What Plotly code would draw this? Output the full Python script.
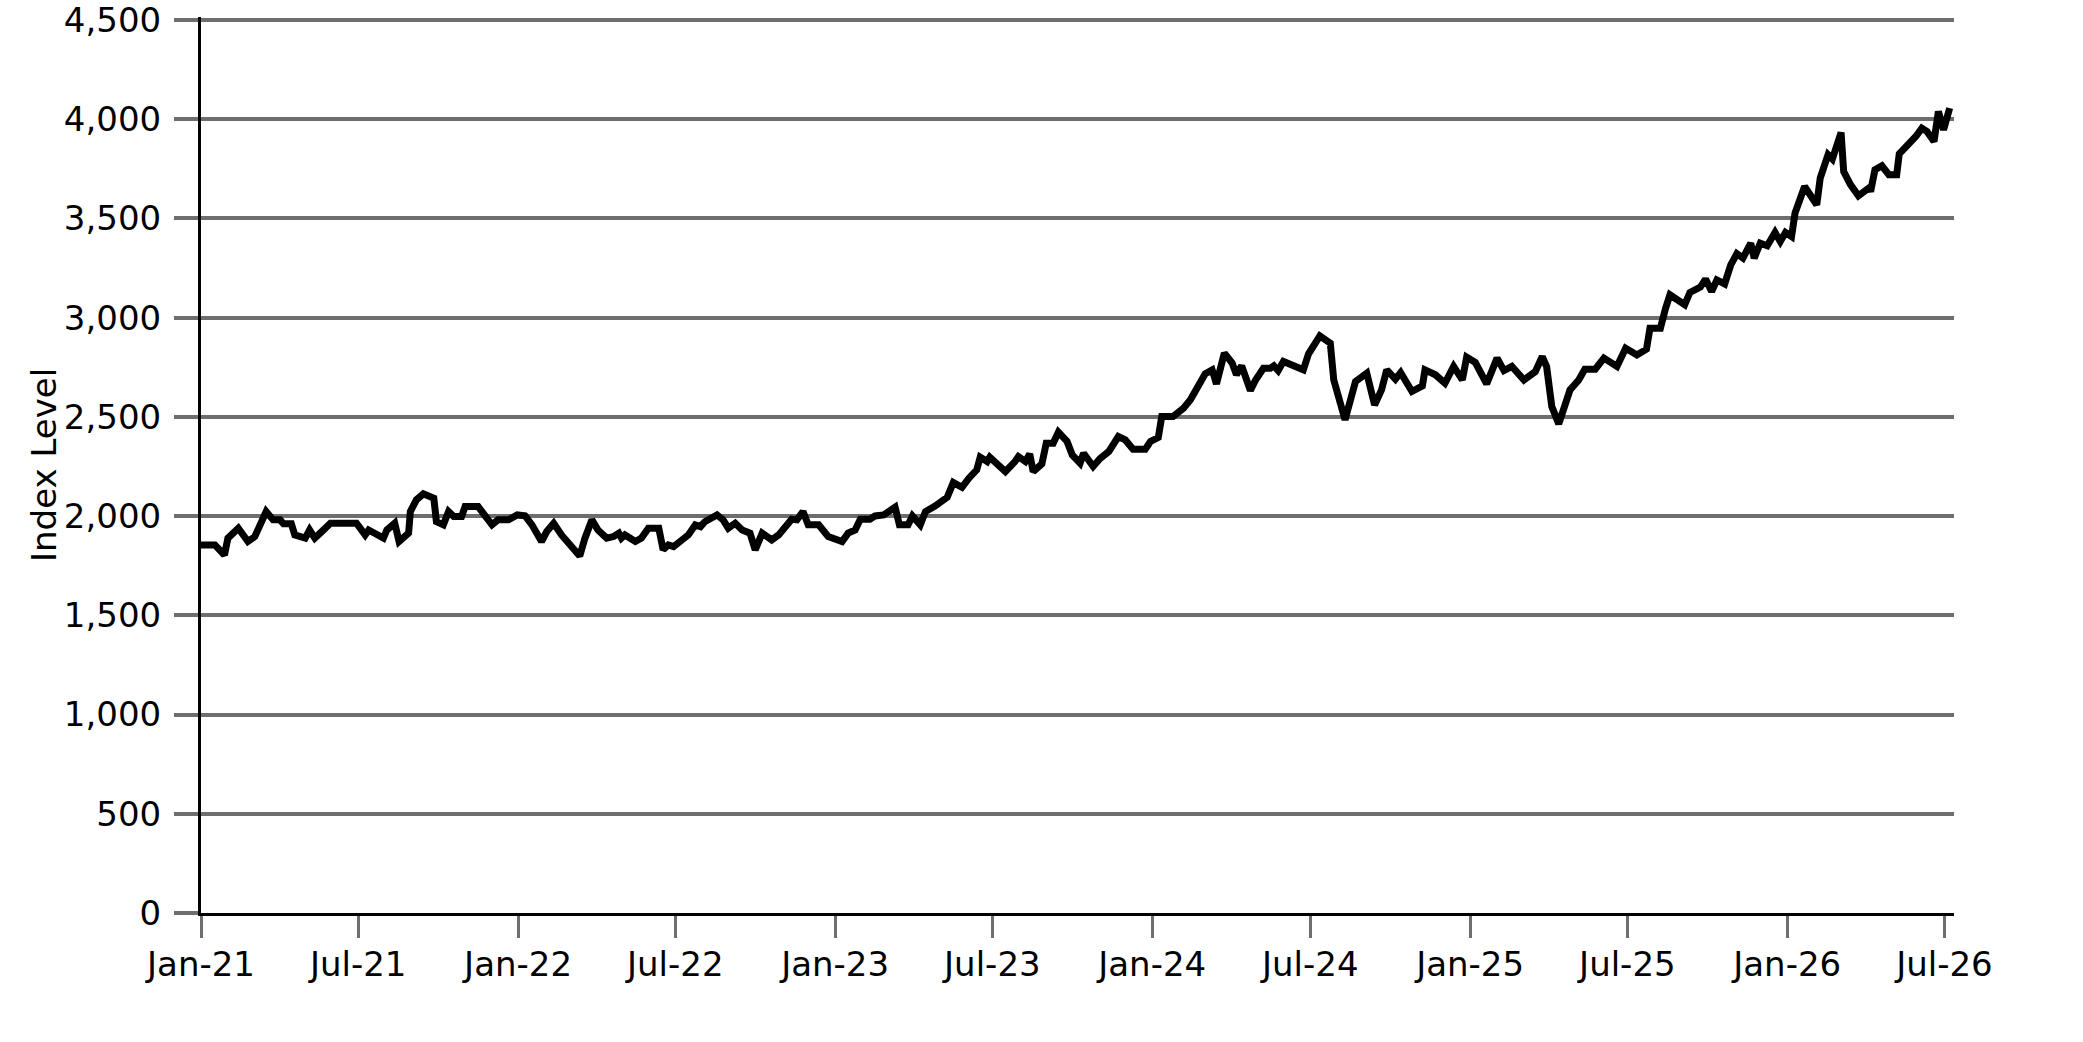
import pandas as pd
import plotly.graph_objects as go

START_DATE = "2021-01-01"

# days since START_DATE for each reading, and the index level
day_offset = [
    0, 16, 27, 31, 43, 54, 62, 68, 75, 83, 91, 95, 104, 108, 120, 125, 131, 139, 149, 179,
    189, 193, 202, 210, 214, 223, 228, 233, 239, 241, 248, 256, 268, 271, 279, 285, 291, 300, 304, 319,
    325, 335, 342, 354, 364, 373, 381, 392, 398, 406, 415, 427, 436, 442, 450, 457, 467, 475, 481, 484,
    488, 500, 507, 515, 527, 532, 538, 544, 553, 561, 569, 575, 580, 594, 601, 607, 615, 623, 632, 638,
    646, 657, 665, 670, 680, 686, 693, 699, 711, 722, 738, 745, 753, 759, 770, 776, 786, 799, 804, 814,
    819, 828, 834, 845, 859, 866, 876, 884, 893, 897, 905, 908, 926, 937, 941, 949, 954, 958, 968, 973,
    981, 987, 997, 1003, 1012, 1016, 1027, 1035, 1045, 1056, 1064, 1073, 1087, 1093, 1102, 1106, 1119, 1131, 1139, 1148,
    1156, 1164, 1169, 1178, 1187, 1192, 1198, 1208, 1214, 1223, 1231, 1235, 1240, 1246, 1256, 1269, 1275, 1283, 1288, 1300,
    1304, 1317, 1329, 1342, 1351, 1359, 1365, 1375, 1381, 1394, 1406, 1409, 1421, 1432, 1442, 1452, 1457, 1467, 1480, 1492,
    1500, 1509, 1523, 1536, 1544, 1549, 1555, 1563, 1576, 1586, 1593, 1605, 1615, 1630, 1640, 1653, 1664, 1668, 1680, 1686,
    1691, 1708, 1714, 1726, 1732, 1739, 1745, 1754, 1761, 1768, 1775, 1784, 1788, 1795, 1803, 1812, 1818, 1824, 1831, 1835,
    1846, 1860, 1864, 1873, 1878, 1888, 1891, 1899, 1908, 1920, 1922, 1927, 1935, 1943, 1952, 1955, 1966, 1974, 1981, 1987,
    1995, 1997, 2000, 2006, 2013,
]

index_level = [
    1855, 1855, 1804, 1889, 1939, 1872, 1897, 1956, 2023, 1981, 1981, 1961, 1961, 1905, 1889, 1930, 1889, 1922, 1964, 1964,
    1905, 1930, 1905, 1889, 1930, 1964, 1872, 1889, 1914, 2023, 2082, 2112, 2090, 1972, 1956, 2023, 1998, 1998, 2048, 2048,
    2014, 1956, 1981, 1981, 2006, 2001, 1956, 1872, 1922, 1964, 1905, 1846, 1799, 1889, 1981, 1930, 1889, 1897, 1914, 1889,
    1905, 1872, 1889, 1939, 1939, 1830, 1855, 1846, 1880, 1905, 1956, 1947, 1972, 2006, 1981, 1939, 1964, 1930, 1914, 1830,
    1914, 1880, 1905, 1930, 1984, 1981, 2023, 1956, 1956, 1897, 1872, 1914, 1930, 1984, 1984, 2001, 2006, 2045, 1956, 1956,
    2001, 1956, 2023, 2051, 2095, 2169, 2145, 2191, 2233, 2297, 2275, 2297, 2224, 2275, 2300, 2275, 2313, 2224, 2263, 2367,
    2367, 2423, 2376, 2308, 2267, 2317, 2250, 2290, 2325, 2401, 2384, 2337, 2337, 2376, 2396, 2502, 2502, 2544, 2586, 2656,
    2717, 2737, 2666, 2821, 2771, 2712, 2757, 2633, 2686, 2745, 2745, 2757, 2733, 2779, 2757, 2737, 2818, 2880, 2908, 2871,
    2686, 2485, 2678, 2720, 2560, 2636, 2737, 2690, 2723, 2628, 2656, 2737, 2712, 2670, 2754, 2686, 2801, 2774, 2666, 2796,
    2733, 2754, 2686, 2728, 2804, 2754, 2552, 2465, 2636, 2686, 2740, 2740, 2796, 2754, 2846, 2812, 2841, 2947, 2947, 3048,
    3115, 3065, 3127, 3154, 3194, 3132, 3190, 3170, 3266, 3322, 3300, 3375, 3300, 3375, 3362, 3429, 3384, 3429, 3409, 3527,
    3661, 3569, 3703, 3821, 3799, 3933, 3736, 3669, 3614, 3653, 3636, 3745, 3765, 3720, 3720, 3826, 3871, 3913, 3955, 3938,
    3888, 3988, 4039, 3947, 4056,
]

tick_dates = ["2021-01-01", "2021-07-01", "2022-01-01", "2022-07-01", "2023-01-01", "2023-07-01",
              "2024-01-01", "2024-07-01", "2025-01-01", "2025-07-01", "2026-01-01", "2026-07-01"]
tick_labels = ["Jan-21", "Jul-21", "Jan-22", "Jul-22", "Jan-23", "Jul-23",
               "Jan-24", "Jul-24", "Jan-25", "Jul-25", "Jan-26", "Jul-26"]

dates = pd.Timestamp(START_DATE) + pd.to_timedelta(day_offset, unit="D")

GRID = "#6e6e6e"
L, R, T, B = 201, 129, 17, 129

fig = go.Figure()
fig.add_trace(go.Scatter(
    x=dates, y=index_level, mode="lines",
    line=dict(color="black", width=7),
    showlegend=False,
))

fig.update_layout(
    width=2083, height=1042,
    margin=dict(l=L, r=R, t=T, b=B, autoexpand=False),
    plot_bgcolor="white", paper_bgcolor="white",
    font=dict(family="DejaVu Sans", size=34, color="black"),
)

fig.update_xaxes(
    type="date",
    range=[START_DATE, "2026-07-12"],
    tickvals=tick_dates, ticktext=tick_labels,
    showgrid=False, zeroline=False, automargin=False,
    showline=True, linecolor="black", linewidth=3,
    ticks="outside", ticklen=22, tickwidth=3, tickcolor=GRID,
    ticklabelstandoff=-3, ticklabeloverflow="allow",
)

fig.update_yaxes(
    range=[0, 4515], dtick=500, tickformat=",",
    showgrid=True, gridcolor=GRID, gridwidth=3.5, zeroline=False, automargin=False,
    showline=True, linecolor="black", linewidth=3,
    ticks="outside", ticklen=24, tickwidth=3.5, tickcolor=GRID,
    ticklabelstandoff=6, ticklabeloverflow="allow",
)

# y title as a rotated annotation so it sits where the reference has it
plot_w = 2083 - L - R
fig.add_annotation(
    text="Index Level", textangle=-90,
    xref="paper", yref="paper", x=(44 - L) / plot_w, y=0.5,
    xanchor="center", yanchor="middle", showarrow=False,
    font=dict(size=34),
)

fig.write_html(
    "out.html",
    config={"displayModeBar": False},
    post_script="document.body.style.margin='0';",
)
